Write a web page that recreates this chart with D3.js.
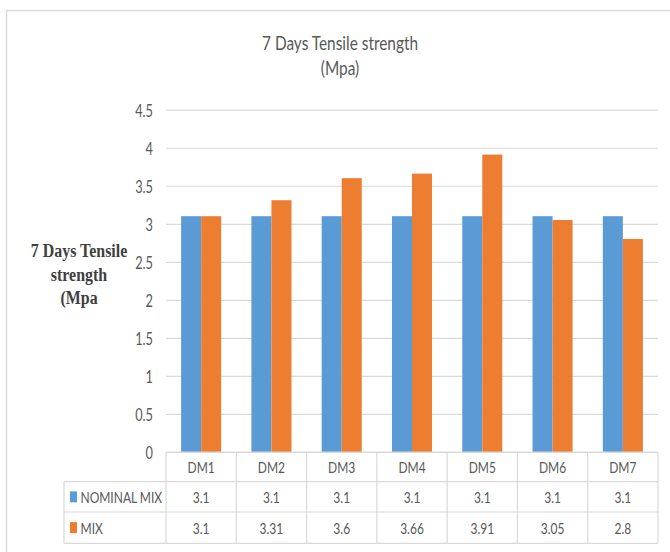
<!DOCTYPE html>
<html>
<head>
<meta charset="utf-8">
<script src="https://cdn.jsdelivr.net/npm/d3@7"></script>
<style>
  body { margin: 0; background: #fff; }
  svg { display: block; }
  text { font-family: Lato, "Open Sans", sans-serif; fill: #595959; }
</style>
</head>
<body>
<div id="chart"></div>
<script>
/**
 * DATA
 * */
const categories = ["DM1", "DM2", "DM3", "DM4", "DM5", "DM6", "DM7"];
const seriesNames = ["NOMINAL MIX", "MIX"];
const nominalMix = [3.1, 3.1, 3.1, 3.1, 3.1, 3.1, 3.1];
const mix = [3.1, 3.31, 3.6, 3.66, 3.91, 3.05, 2.8];
const yTicks = [0, 0.5, 1, 1.5, 2, 2.5, 3, 3.5, 4, 4.5];
const titleLines = ["7 Days Tensile strength", "(Mpa)"];
const yLabelLines = ["7 Days Tensile", "strength", "(Mpa"];

/**
 * CONSTANTS
 * */
const width = 670,
  height = 552,
  plot = { left: 166, right: 658, top: 109.7, bottom: 452 },
  table = { left: 64, header: 481.7, row1: 512, bottom: 543.3 },
  colors = ["#5B9BD5", "#ED7D31"],
  lineColor = "#d9d9d9",
  squeeze = 0.75; // the original picture is squashed sideways

const seriesValues = [nominalMix, mix];

const svg = d3.select("#chart")
  .append("svg")
  .attr("width", width)
  .attr("height", height);

// outer chart border (runs off the right and bottom of the picture)
svg.append("rect")
  .attr("x", 6.5)
  .attr("y", 10.5)
  .attr("width", 680)
  .attr("height", 600)
  .attr("fill", "none")
  .attr("stroke", lineColor)
  .attr("stroke-width", 1.5);

// helper to place condensed text
function place(sel, x, y, sx = squeeze) {
  return sel.attr("transform", `translate(${x},${y}) scale(${sx},1)`);
}

// SCALES
const xScale = d3.scaleBand()
  .domain(categories)
  .range([plot.left, plot.right])
  .paddingInner(0.43)
  .paddingOuter(0.215);

const xSub = d3.scaleBand()
  .domain(seriesNames)
  .range([0, xScale.bandwidth()]);

const yScale = d3.scaleLinear()
  .domain([0, 4.5])
  .range([plot.bottom, plot.top]);

const step = xScale.step();
const colX = i => plot.left + i * step;

// TITLE
titleLines.forEach((t, i) => {
  svg.append("text")
    .attr("text-anchor", "middle")
    .attr("font-size", 20)
    .call(place, 340, 50 + i * 25, 0.77)
    .text(t);
});

// Y AXIS LABEL
yLabelLines.forEach((t, i) => {
  svg.append("text")
    .attr("text-anchor", "middle")
    .attr("font-size", 19)
    .attr("font-weight", "bold")
    .style("font-family", "'Liberation Serif', 'DejaVu Serif', serif")
    .style("fill", "#3f3f3f")
    .call(place, 79, 257 + i * 23.5, 0.84)
    .text(t);
});

// Y AXIS + GRIDLINES
const yAxis = d3.axisLeft(yScale)
  .tickValues(yTicks)
  .tickSize(-(plot.right - plot.left))
  .tickFormat(d => d);

const gy = svg.append("g")
  .attr("class", "axis y-axis")
  .attr("transform", `translate(${plot.left},0)`)
  .call(yAxis);

gy.select(".domain").remove();
gy.selectAll(".tick line")
  .attr("stroke", lineColor)
  .attr("stroke-width", 1.2);
gy.selectAll(".tick text")
  .attr("x", null)
  .attr("dy", null)
  .attr("dominant-baseline", "central")
  .attr("font-size", 17)
  .attr("font-family", null)
  .style("fill", "#595959")
  .attr("transform", `translate(-13,0) scale(${squeeze},1)`);

// BARS
const groups = svg.append("g")
  .selectAll("g.group")
  .data(categories)
  .join("g")
  .attr("class", "group")
  .attr("transform", d => `translate(${xScale(d)},0)`);

groups.selectAll("rect")
  .data((d, i) => seriesNames.map((s, j) => ({ s, j, v: seriesValues[j][i] })))
  .join("rect")
  .attr("x", d => xSub(d.s))
  .attr("width", xSub.bandwidth())
  .attr("y", d => yScale(d.v))
  .attr("height", d => yScale(0) - yScale(d.v))
  .attr("fill", d => colors[d.j]);

// DATA TABLE
const tbl = svg.append("g").attr("class", "data-table");
const hline = (x1, x2, y) => tbl.append("line")
  .attr("x1", x1).attr("x2", x2).attr("y1", y).attr("y2", y)
  .attr("stroke", lineColor).attr("stroke-width", 1.2);
const vline = (x, y1, y2) => tbl.append("line")
  .attr("x1", x).attr("x2", x).attr("y1", y1).attr("y2", y2)
  .attr("stroke", lineColor).attr("stroke-width", 1.2);

hline(plot.left, plot.right, plot.bottom);
hline(table.left, plot.right, table.header);
hline(table.left, plot.right, table.row1);
hline(table.left, plot.right, table.bottom);
vline(table.left, table.header, table.bottom);
d3.range(categories.length + 1).forEach(i => vline(colX(i), plot.bottom, table.bottom));

// header labels
categories.forEach((c, i) => {
  tbl.append("text")
    .attr("text-anchor", "middle")
    .attr("dominant-baseline", "central")
    .attr("font-size", 16)
    .call(place, colX(i) + step / 2, (plot.bottom + table.header) / 2)
    .text(c);
});

// series rows
const rowTops = [table.header, table.row1];
const rowBottoms = [table.row1, table.bottom];
seriesNames.forEach((s, j) => {
  const cy = (rowTops[j] + rowBottoms[j]) / 2;
  tbl.append("rect")
    .attr("x", 70)
    .attr("y", cy - 5.5)
    .attr("width", 7)
    .attr("height", 11)
    .attr("fill", colors[j]);
  tbl.append("text")
    .attr("dominant-baseline", "central")
    .attr("font-size", 16)
    .call(place, 80.5, cy)
    .text(s);
  seriesValues[j].forEach((v, i) => {
    tbl.append("text")
      .attr("text-anchor", "middle")
      .attr("dominant-baseline", "central")
      .attr("font-size", 16)
      .call(place, colX(i) + step / 2, cy)
      .text(v);
  });
});
</script>
</body>
</html>
